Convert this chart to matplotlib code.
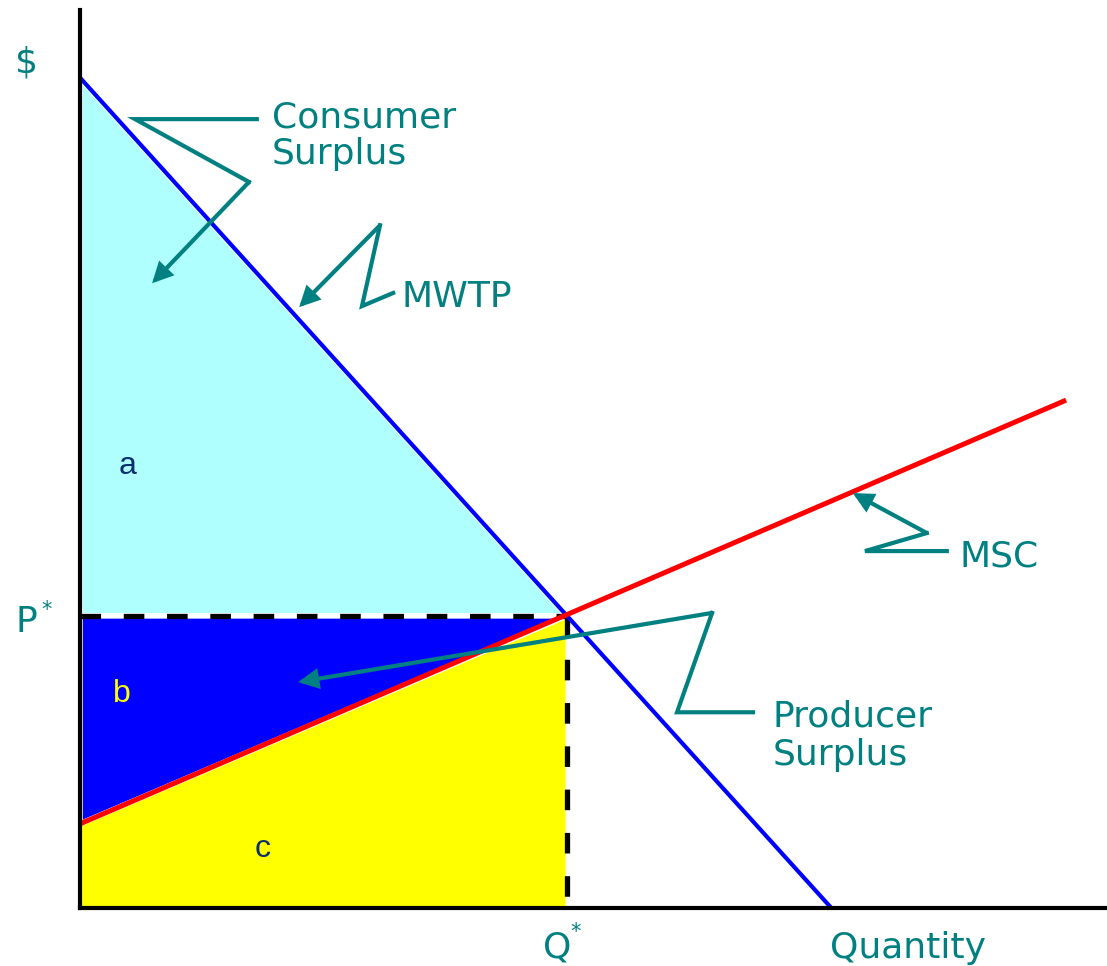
import matplotlib.pyplot as plt
from matplotlib.patches import Polygon

# market data (arbitrary price / quantity units)
q_star = 10.0
p_star = 6.0
mwtp_q = [0.0, 15.43]
mwtp_p = [17.05, 0.0]
msc_q = [0.0, 20.25]
msc_p = [1.73, 10.43]

teal = '#008080'
navy = '#0B2F6B'

fig = plt.figure(figsize=(11.07, 9.66), dpi=100)
ax = fig.add_axes([0.0723, 0.0600, 0.9277, 0.9296])
ax.set_xlim(0, 21.09)
ax.set_ylim(0, 18.44)
for s in ['top', 'right']:
    ax.spines[s].set_visible(False)
for s in ['left', 'bottom']:
    ax.spines[s].set_linewidth(3)
    ax.spines[s].set_zorder(10)
ax.set_xticks([])
ax.set_yticks([])

# surplus areas, white edges leave the thin gaps seen around each area
cs = Polygon([(0, mwtp_p[0]), (0, p_star), (q_star, p_star)], closed=True,
             facecolor='#AFFFFF', edgecolor='white', lw=4, zorder=1)
ps_b = Polygon([(0, p_star), (q_star, p_star), (0, msc_p[0])], closed=True,
               facecolor='#0000FF', edgecolor='white', lw=4, zorder=1)
ps_c = Polygon([(0, msc_p[0]), (q_star, p_star), (q_star, 0), (0, 0)], closed=True,
               facecolor='#FFFF00', edgecolor='white', lw=2, zorder=0.9)
for patch in [ps_c, cs, ps_b]:
    ax.add_patch(patch)

# P* and Q* guide lines
ax.plot([0, q_star], [p_star, p_star], color='black', lw=3.8, ls=(0, (3.9, 4.3)), zorder=3)
ax.plot([q_star, q_star], [p_star, 0], color='black', lw=3.8, ls=(0, (3.9, 4.3)), zorder=3)

# curves
ax.plot(mwtp_q, mwtp_p, color='#0000FF', lw=3, zorder=4, solid_capstyle='butt')
ax.plot(msc_q, msc_p, color='#FF0000', lw=3.6, zorder=5, solid_capstyle='butt')

# callouts
def callout(points, tip):
    xs = [p[0] for p in points]
    ys = [p[1] for p in points]
    ax.plot(xs, ys, color=teal, lw=3, zorder=6, solid_joinstyle='miter')
    ax.annotate('', xy=tip, xytext=points[-1],
                arrowprops=dict(arrowstyle='-|>', color=teal, lw=3,
                                mutation_scale=26, shrinkA=0, shrinkB=0,
                                joinstyle='miter'),
                zorder=6)

callout([(3.63, 16.20), (1.13, 16.20), (3.47, 14.91)], (1.48, 12.83))
callout([(6.43, 12.63), (5.79, 12.36), (6.16, 14.02)], (4.50, 12.34))
callout([(17.80, 7.33), (16.12, 7.33), (17.39, 7.70)], (15.87, 8.52))
callout([(13.82, 4.02), (12.26, 4.02), (12.98, 6.06)], (4.48, 4.64))

tfont = dict(color=teal, fontsize=26, family='DejaVu Sans', va='baseline', ha='left')
ax.text(3.94, 16.02, 'Consumer', **tfont)
ax.text(3.94, 15.28, 'Surplus', **tfont)
ax.text(6.61, 12.34, 'MWTP', **tfont)
ax.text(18.07, 7.02, 'MSC', **tfont)
ax.text(14.23, 3.72, 'Producer', **tfont)
ax.text(14.23, 2.94, 'Surplus', **tfont)

# axis labels
ax.text(-1.33, 17.15, '$', clip_on=False, **tfont)
ax.text(-1.33, 5.67, 'P', clip_on=False, **tfont)
ax.text(-0.80, 6.0, '*', color=teal, fontsize=15, va='baseline', ha='left', clip_on=False)
ax.text(9.50, -1.02, 'Q', clip_on=False, **tfont)
ax.text(10.07, -0.62, '*', color=teal, fontsize=15, va='baseline', ha='left', clip_on=False)
ax.text(15.40, -1.02, 'Quantity', clip_on=False, **tfont)

# area labels
lfont = dict(fontsize=23, family='Liberation Sans', ha='center', va='center')
ax.text(0.97, 9.08, 'a', color=navy, **lfont)
ax.text(0.86, 4.39, 'b', color='#FFFF00', **lfont)
ax.text(3.74, 1.21, 'c', color=navy, **lfont)

fig.savefig('out.png', dpi=100)
